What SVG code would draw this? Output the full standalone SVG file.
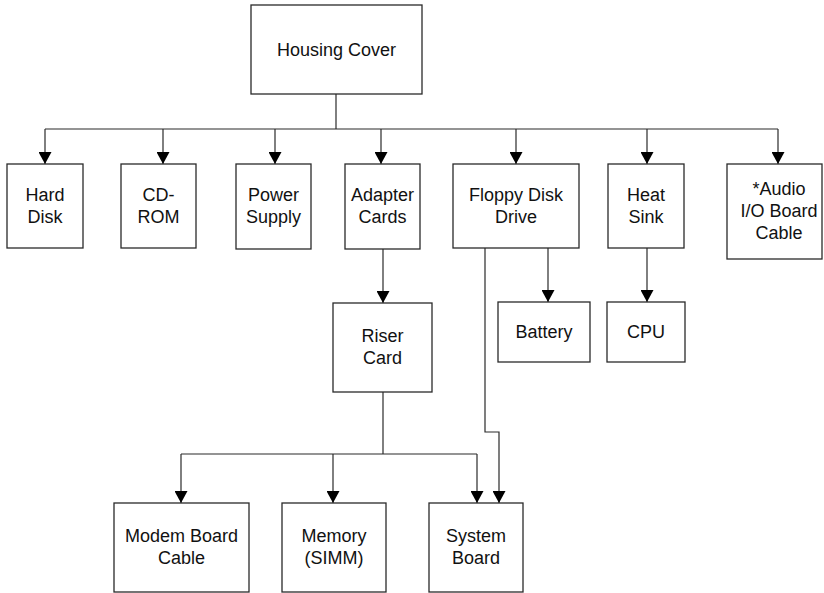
<svg xmlns="http://www.w3.org/2000/svg" width="824" height="593" viewBox="0 0 824 593">
<style>
rect.box{fill:#fff;stroke:#2a2a2a;stroke-width:1.3}
text{font-family:"Liberation Sans",Arial,sans-serif;font-size:18px;fill:#111;text-anchor:middle}
.c{fill:none;stroke:#2a2a2a;stroke-width:1.2}
</style>
<defs>
<marker id="ah" markerUnits="userSpaceOnUse" markerWidth="12" markerHeight="13" viewBox="0 0 12 13" refX="12" refY="6.5" orient="auto">
<path d="M0,0 L12,6.5 L0,13 z" fill="#000"/>
</marker>
</defs>
<rect width="824" height="593" fill="#fff"/>
<g id="connectors">
<path class="c" d="M336,94 V129"/>
<path class="c" d="M45,129 H778"/>
<path class="c" d="M45,129 V164" marker-end="url(#ah)"/>
<path class="c" d="M163,129 V164" marker-end="url(#ah)"/>
<path class="c" d="M275,129 V164" marker-end="url(#ah)"/>
<path class="c" d="M381,129 V164" marker-end="url(#ah)"/>
<path class="c" d="M516,129 V164" marker-end="url(#ah)"/>
<path class="c" d="M647,129 V164" marker-end="url(#ah)"/>
<path class="c" d="M778,129 V164" marker-end="url(#ah)"/>
<path class="c" d="M383,249 V303" marker-end="url(#ah)"/>
<path class="c" d="M548,248 V302" marker-end="url(#ah)"/>
<path class="c" d="M647,248 V302" marker-end="url(#ah)"/>
<path class="c" d="M383,392 V454"/>
<path class="c" d="M181,454 H477"/>
<path class="c" d="M181,454 V503" marker-end="url(#ah)"/>
<path class="c" d="M333,454 V503" marker-end="url(#ah)"/>
<path class="c" d="M477,454 V503" marker-end="url(#ah)"/>
<path class="c" d="M485,248 V432 H499 V503" marker-end="url(#ah)"/>
</g>
<g id="housing-cover"><rect class="box" x="251" y="5" width="171" height="89"/><text x="336.5" y="56">Housing Cover</text></g>
<g id="hard-disk"><rect class="box" x="7" y="164" width="76" height="84"/><text x="45" y="201">Hard</text><text x="45" y="223">Disk</text></g>
<g id="cd-rom"><rect class="box" x="121" y="164" width="75" height="84"/><text x="158.5" y="201">CD-</text><text x="158.5" y="223">ROM</text></g>
<g id="power-supply"><rect class="box" x="236" y="164" width="75" height="85"/><text x="273.5" y="201">Power</text><text x="273.5" y="223">Supply</text></g>
<g id="adapter-cards"><rect class="box" x="345" y="164" width="75" height="85"/><text x="382.5" y="201">Adapter</text><text x="382.5" y="223">Cards</text></g>
<g id="floppy-disk-drive"><rect class="box" x="453" y="164" width="126" height="84"/><text x="516" y="201">Floppy Disk</text><text x="516" y="223">Drive</text></g>
<g id="heat-sink"><rect class="box" x="608" y="164" width="76" height="84"/><text x="646" y="201">Heat</text><text x="646" y="223">Sink</text></g>
<g id="audio-io-board-cable"><rect class="box" x="727" y="164" width="95" height="95"/><text x="779" y="195">*Audio</text><text x="779" y="217">I/O Board</text><text x="779" y="239">Cable</text></g>
<g id="riser-card"><rect class="box" x="333" y="303" width="99" height="89"/><text x="382.5" y="342">Riser</text><text x="382.5" y="364">Card</text></g>
<g id="battery"><rect class="box" x="498" y="302" width="92" height="60"/><text x="544" y="338">Battery</text></g>
<g id="cpu"><rect class="box" x="607" y="302" width="78" height="60"/><text x="646" y="338">CPU</text></g>
<g id="modem-board-cable"><rect class="box" x="114" y="503" width="135" height="89"/><text x="181.5" y="542">Modem Board</text><text x="181.5" y="564">Cable</text></g>
<g id="memory-simm"><rect class="box" x="282" y="503" width="104" height="89"/><text x="334" y="542">Memory</text><text x="334" y="564">(SIMM)</text></g>
<g id="system-board"><rect class="box" x="429" y="503" width="94" height="89"/><text x="476" y="542">System</text><text x="476" y="564">Board</text></g>
</svg>
